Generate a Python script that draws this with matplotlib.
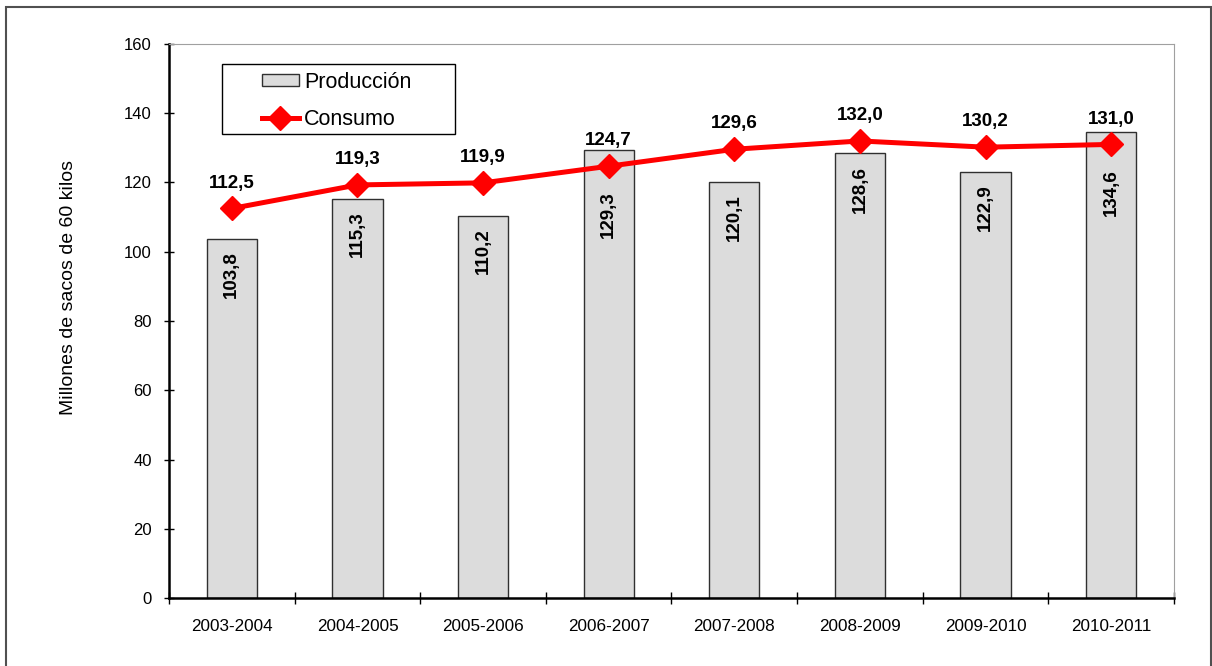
import matplotlib.pyplot as plt
from matplotlib.patches import Rectangle
import numpy as np

plt.rcParams['font.family'] = ['Liberation Sans', 'DejaVu Sans']

campanas = ['2003-2004', '2004-2005', '2005-2006', '2006-2007',
            '2007-2008', '2008-2009', '2009-2010', '2010-2011']
produccion = [103.8, 115.3, 110.2, 129.3, 120.1, 128.6, 122.9, 134.6]
consumo = [112.5, 119.3, 119.9, 124.7, 129.6, 132.0, 130.2, 131.0]

W, H = 1212, 666

def coma(v):
    return f'{v:.1f}'.replace('.', ',')

fig = plt.figure(figsize=(W / 100, H / 100), dpi=100)
# marco exterior del grafico
fig.patches.append(Rectangle((6 / W, -0.02), 1205 / W, 1.02 - 7 / H, transform=fig.transFigure,
                             fill=False, edgecolor='#505050', linewidth=1.5))
ax = fig.add_axes([169 / W, 68 / H, 1005 / W, 554 / H])

x = np.arange(len(campanas))
barras = ax.bar(x, produccion, width=0.4, color='#dcdcdc', edgecolor='#303030', linewidth=1.0,
                label='Producción', zorder=2)
linea, = ax.plot(x, consumo, color='#ff0000', linewidth=3.6, marker='D', markersize=12,
                 label='Consumo', zorder=3)

# etiquetas de las barras: dentro, debajo del rombo si lo tapa
for xi, v, c in zip(x, produccion, consumo):
    y0 = min(v - 3.5, c - 7.2)
    ax.text(xi, y0, coma(v), rotation=90, ha='center', va='top',
            fontsize=13.5, fontweight='bold', zorder=4)
for xi, v in zip(x, consumo):
    ax.annotate(coma(v), (xi, v), xytext=(0, 15), textcoords='offset points',
                ha='center', va='baseline', fontsize=13.5, fontweight='bold')

ax.set_xlim(-0.5, len(campanas) - 0.5)
ax.set_ylim(0, 160)
ax.set_yticks(range(0, 161, 20))
ax.set_xticks(x)
ax.set_xticklabels(campanas, fontsize=12.3)
ax.set_xticks(np.arange(-0.5, len(campanas), 1), minor=True)
ax.tick_params(axis='x', which='major', length=0, pad=15)
ax.tick_params(axis='x', which='minor', length=8, direction='inout', width=1)
ax.tick_params(axis='y', labelsize=12, length=7, width=1, direction='inout', pad=9)
ax.set_ylabel('Millones de sacos de 60 kilos', fontsize=14)
ax.yaxis.set_label_coords(-0.0915, 0.561)

for s in ['top', 'right']:
    ax.spines[s].set_color('#a0a0a0')
for s in ['left', 'bottom']:
    ax.spines[s].set_linewidth(1.8)

leg = fig.legend([barras, linea], ['Producción', 'Consumo'], loc='upper left',
                 bbox_to_anchor=(262 / W, 1 - 72 / H), fontsize=15.5, frameon=False,
                 borderpad=0, borderaxespad=0, handlelength=1.7, handleheight=0.5,
                 handletextpad=0.25, labelspacing=0.75)
fig.patches.append(Rectangle((222 / W, 1 - 134 / H), 233 / W, 70 / H, transform=fig.transFigure,
                             fill=False, edgecolor='black', linewidth=1.0, zorder=5))

fig.savefig('out.png', dpi=100)
